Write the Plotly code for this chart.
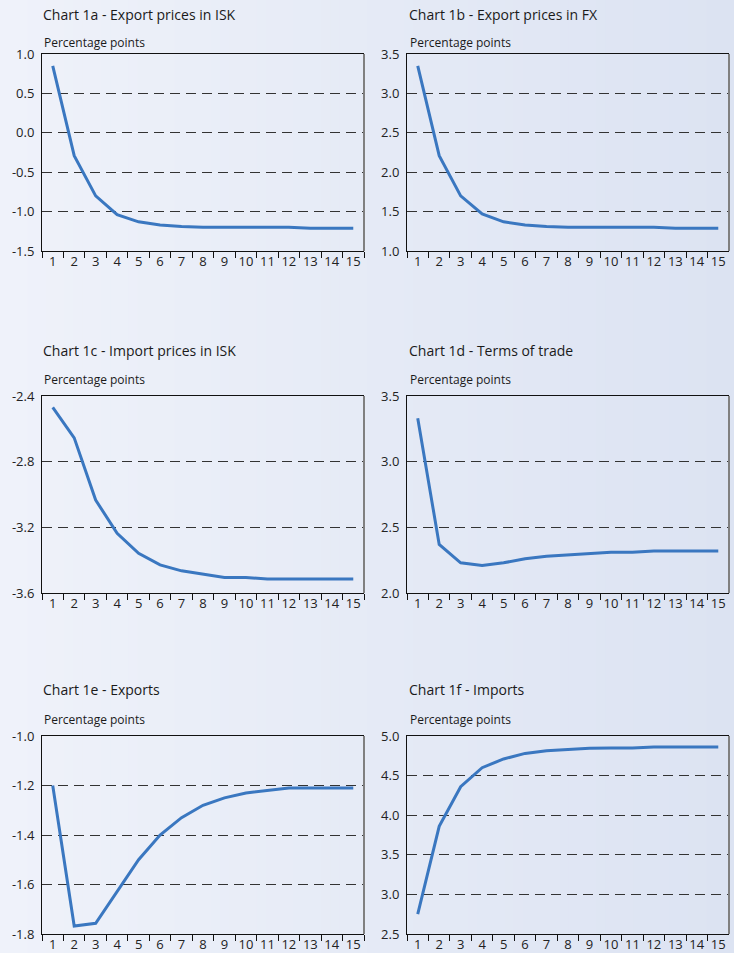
import plotly.graph_objects as go

periods = [str(i) for i in range(1, 16)]

titles = [
    "Chart 1a - Export prices in ISK",
    "Chart 1b - Export prices in FX",
    "Chart 1c - Import prices in ISK",
    "Chart 1d - Terms of trade",
    "Chart 1e - Exports",
    "Chart 1f - Imports",
]
unit_label = "Percentage points"

export_prices_isk = [0.85, -0.29, -0.80, -1.04, -1.13, -1.17, -1.19, -1.20, -1.20, -1.20, -1.20, -1.20, -1.21, -1.21, -1.21]
export_prices_fx = [3.35, 2.21, 1.70, 1.47, 1.37, 1.33, 1.31, 1.30, 1.30, 1.30, 1.30, 1.30, 1.29, 1.29, 1.29]
import_prices_isk = [-2.47, -2.655, -3.034, -3.236, -3.358, -3.429, -3.465, -3.485, -3.505, -3.505, -3.515, -3.515, -3.515, -3.515, -3.515]
terms_of_trade = [3.33, 2.37, 2.23, 2.21, 2.23, 2.26, 2.28, 2.29, 2.30, 2.31, 2.31, 2.32, 2.32, 2.32, 2.32]
exports = [-1.20, -1.768, -1.757, -1.63, -1.50, -1.40, -1.33, -1.28, -1.25, -1.23, -1.22, -1.21, -1.21, -1.21, -1.21]
imports = [2.75, 3.86, 4.36, 4.60, 4.71, 4.78, 4.815, 4.83, 4.845, 4.85, 4.85, 4.86, 4.86, 4.86, 4.86]

series = [export_prices_isk, export_prices_fx, import_prices_isk, terms_of_trade, exports, imports]

# y-axis tick values per chart
y_ticks_1a = [-1.5, -1.0, -0.5, 0.0, 0.5, 1.0]
y_ticks_1b = [1.0, 1.5, 2.0, 2.5, 3.0, 3.5]
y_ticks_1c = [-3.6, -3.2, -2.8, -2.4]
y_ticks_1d = [2.0, 2.5, 3.0, 3.5]
y_ticks_1e = [-1.8, -1.6, -1.4, -1.2, -1.0]
y_ticks_1f = [2.5, 3.0, 3.5, 4.0, 4.5, 5.0]
y_ticks = [y_ticks_1a, y_ticks_1b, y_ticks_1c, y_ticks_1d, y_ticks_1e, y_ticks_1f]

W, H = 734, 953
col_px = [(42, 364), (407, 729)]
row_px = [(54, 251), (396, 593), (736, 934)]
title_y_px = [14, 350, 689]
unit_y_px = [42, 379, 719]
title_x_px = [41, 407]

fig = go.Figure()

# gradient background
n_strips = 80
c0 = (239, 242, 250)
c1 = (220, 227, 242)
shapes = []
for i in range(n_strips):
    t = i / (n_strips - 1)
    c = tuple(round(c0[k] + (c1[k] - c0[k]) * t) for k in range(3))
    shapes.append(dict(type="rect", xref="paper", yref="paper",
                       x0=i / n_strips, x1=(i + 1) / n_strips + 0.002, y0=0, y1=1,
                       fillcolor="rgb(%d,%d,%d)" % c, line=dict(width=0), layer="below"))

annotations = []
font_family = "Open Sans"
for idx in range(6):
    r, c = divmod(idx, 2)
    n = idx + 1
    xa = "xaxis" if n == 1 else f"xaxis{n}"
    ya = "yaxis" if n == 1 else f"yaxis{n}"
    xr = "x" if n == 1 else f"x{n}"
    yr = "y" if n == 1 else f"y{n}"
    x0p, x1p = col_px[c]
    y0p, y1p = row_px[r]
    fig.add_trace(go.Scatter(x=periods, y=series[idx], mode="lines",
                             line=dict(color="#3a77c0", width=3),
                             xaxis=xr, yaxis=yr, showlegend=False,
                             hoverinfo="x+y"))
    fig.layout[xa] = dict(
        domain=[x0p / W, x1p / W], anchor=yr, type="category",
        range=[-0.5, len(periods) - 0.5],
        tickson="boundaries", ticks="outside", ticklen=6, tickwidth=1, tickcolor="#111",
        showline=True, linecolor="#111", linewidth=1, mirror=True,
        showgrid=False, zeroline=False, tickangle=0, automargin=False,
        ticklabelstandoff=-2,
        tickfont=dict(family=font_family, size=13, color="#222"),
        fixedrange=True,
    )
    tv = y_ticks[idx]
    fig.layout[ya] = dict(
        domain=[1 - y1p / H, 1 - y0p / H], anchor=xr,
        range=[tv[0], tv[-1]], tickmode="array", tickvals=tv,
        ticktext=[f"{v:.1f}" for v in tv],
        showline=True, linecolor="#111", linewidth=1,
        showgrid=True, gridcolor="#333", griddash="10px,6px", gridwidth=1.2,
        zeroline=False, ticks="", ticklabelstandoff=4, automargin=False,
        tickfont=dict(family=font_family, size=13, color="#222"),
        fixedrange=True,
    )
    # right border (gray)
    shapes.append(dict(type="line", xref=f"{xr} domain", yref=f"{yr} domain",
                       x0=1, x1=1, y0=0, y1=1, line=dict(color="#808080", width=2)))
    annotations.append(dict(text=titles[idx], xref="paper", yref="paper",
                            x=title_x_px[c] / W, y=1 - title_y_px[r] / H,
                            xanchor="left", yanchor="middle", showarrow=False,
                            font=dict(family=font_family, size=14, color="#1a1a1a")))
    annotations.append(dict(text=unit_label, xref="paper", yref="paper",
                            x=(title_x_px[c] + 1) / W, y=1 - unit_y_px[r] / H,
                            xanchor="left", yanchor="middle", showarrow=False,
                            font=dict(family=font_family, size=12, color="#1a1a1a")))

fig.update_layout(
    width=W, height=H,
    margin=dict(l=0, r=0, t=0, b=0, pad=0, autoexpand=False),
    paper_bgcolor="rgb(230,235,246)",
    plot_bgcolor="rgba(0,0,0,0)",
    shapes=shapes,
    annotations=annotations,
    showlegend=False,
)

fig.write_html("out.html",
               config={"displayModeBar": False},
               post_script="document.body.style.margin='0';document.body.style.overflow='hidden';")
